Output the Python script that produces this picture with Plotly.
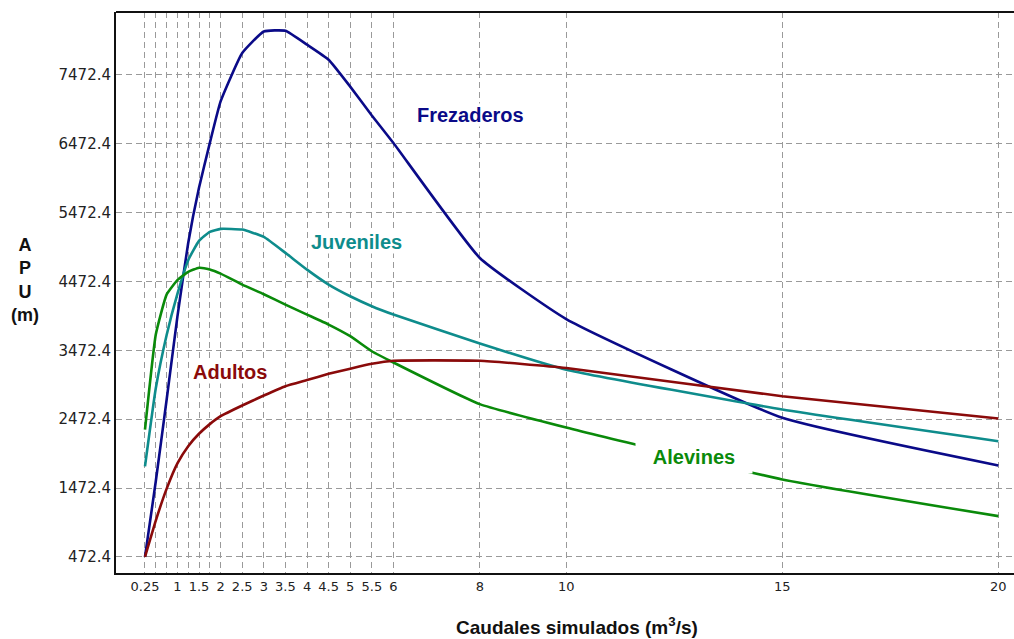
import plotly.graph_objects as go

# ---- data ----
caudales = [0.25, 0.5, 0.75, 1, 1.25, 1.5, 1.75, 2, 2.5, 3, 3.5, 4, 4.5, 5, 5.5, 6, 8, 10, 15, 20]

frezaderos = [472, 1570, 2750, 3960, 5030, 5830, 6480, 7085, 7787, 8100, 8110, 7908, 7690, 7300, 6880, 6481, 4812, 3925, 2492, 1800]
juveniles = [1786, 2920, 3690, 4290, 4780, 5060, 5190, 5234, 5224, 5118, 4886, 4643, 4426, 4256, 4111, 3990, 3570, 3190, 2612, 2152]
alevines = [2319, 3700, 4280, 4490, 4610, 4670, 4645, 4585, 4426, 4285, 4135, 3990, 3845, 3676, 3458, 3295, 2690, 2350, 1597, 1064]
adultos = [472, 1000, 1460, 1830, 2080, 2260, 2400, 2515, 2670, 2815, 2950, 3040, 3130, 3205, 3275, 3320, 3320, 3215, 2805, 2482]

x_tickvals = [0.25, 0.5, 0.75, 1, 1.25, 1.5, 1.75, 2, 2.5, 3, 3.5, 4, 4.5, 5, 5.5, 6, 8, 10, 15, 20]
x_ticktext = ["0.25", " ", " ", "1", " ", "1.5", " ", "2", "2.5", "3", "3.5", "4", "4.5", "5", "5.5", "6", "8", "10", "15", "20"]
y_tickvals = [472.4, 1472.4, 2472.4, 3472.4, 4472.4, 5472.4, 6472.4, 7472.4]
y_ticktext = ["472.4", "1472.4", "2472.4", "3472.4", "4472.4", "5472.4", "6472.4", "7472.4"]

series = [
    ("Frezaderos", frezaderos, "#0A0A88"),
    ("Juveniles", juveniles, "#0E8C8C"),
    ("Alevines", alevines, "#0A8A0A"),
    ("Adultos", adultos, "#8A0A0A"),
]

fig = go.Figure()
for name, vals, col in series:
    fig.add_trace(go.Scatter(x=caudales, y=vals, mode="lines", name=name,
                             line=dict(color=col, width=2.6, shape="spline", smoothing=0.4),
                             showlegend=False, hoverinfo="x+y+name"))

W, H = 1014, 639
ml, mr, mt, mb = 116, 0, 12, 66
pw, ph = W - ml - mr, H - mt - mb

label_font = "Liberation Sans, Arial, sans-serif"
labels = [
    ("Frezaderos", 7.795, 6891, "#0A0A88", None, None, 0),
    ("Juveniles", 5.134, 5048, "#0E8C8C", None, None, 0),
    ("Adultos", 2.217, 3161, "#8A0A0A", None, None, 0),
    ("Alevines", 12.968, 1927, "#0A8A0A", 112, 28, 2),
]
for text, lx, ly, col, w, h, pad in labels:
    ann = dict(x=lx, y=ly, xref="x", yref="y", text="<b>%s</b>" % text, showarrow=False,
               font=dict(family=label_font, size=20, color=col),
               bgcolor="white", borderpad=pad, xanchor="center", yanchor="middle")
    if w:
        ann["width"] = w
        ann["height"] = h
    fig.add_annotation(**ann)

# axis titles (pixel positions converted to paper fractions)
fig.add_annotation(x=10.26, y=(H - mb - 626) / ph, xref="x", yref="paper",
                   text="<b>Caudales simulados (m<sup>3</sup>/s)</b>", showarrow=False,
                   font=dict(family=label_font, size=19, color="#111"),
                   xanchor="center", yanchor="middle")
fig.add_annotation(x=(25 - ml) / pw, y=(H - mb - 280) / ph, xref="paper", yref="paper",
                   text="<b>A<br>P<br>U<br>(m)</b>", showarrow=False,
                   font=dict(family=label_font, size=18, color="#111"),
                   xanchor="center", yanchor="middle")

grid = dict(showgrid=True, gridcolor="#9a9a9a", gridwidth=1, griddash="6px,4px")
fig.update_xaxes(range=[-0.421, 20.363], tickmode="array", tickvals=x_tickvals, ticktext=x_ticktext,
                 showline=True, linecolor="#111", linewidth=2, zeroline=False, ticks="",
                 tickangle=0,
                 tickfont=dict(family="DejaVu Sans", size=13, color="#222"), **grid)
fig.update_yaxes(range=[238.7, 8382.7], tickmode="array", tickvals=y_tickvals, ticktext=y_ticktext,
                 showline=True, linecolor="#111", linewidth=2, zeroline=False, ticks="",
                 tickfont=dict(family="DejaVu Sans", size=15, color="#222"), **grid)

fig.add_shape(type="line", xref="paper", yref="paper", x0=0, x1=1, y0=1, y1=1,
              line=dict(color="#111", width=2))

fig.update_layout(width=W, height=H, margin=dict(l=ml, r=mr, t=mt, b=mb),
                  paper_bgcolor="white", plot_bgcolor="white", showlegend=False)

fig.write_html("out.html")
